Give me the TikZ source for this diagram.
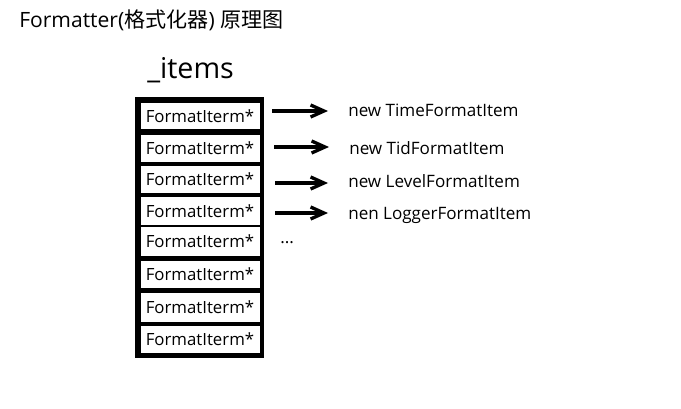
\documentclass[tikz,border=0pt]{standalone}
\usepackage{fontspec}
\setmainfont{Open Sans}
\newfontfamily\cjk{Noto Sans CJK SC}
\usetikzlibrary{arrows.meta}

\begin{document}
\begin{tikzpicture}[x=0.75pt,y=-0.75pt,
    cell/.style={fill=white,minimum width=89.25pt,inner sep=0pt,font=\fontsize{12.6}{14}\selectfont},
    item/.style={anchor=west,inner sep=0pt,font=\fontsize{12.8}{15}\selectfont},
    arr/.style={line width=2.5pt,-{Straight Barb[length=10pt,width=9pt]}}]
  \useasboundingbox (0,0) rectangle (681,409);

  % 1. 标题和 _items
  \node[anchor=west,inner sep=0pt,font=\fontsize{15.8}{18}\selectfont] (title) at (19,20)
    {Formatter({\cjk 格式化器}) {\cjk 原理图}};
  \node[anchor=west,inner sep=0pt,font=\fontsize{21.5}{24}\selectfont] (items) at (147,70) {\_items};

  % 2. 数组外框（黑底）和各个格子
  \fill (135,97) rectangle (264,358);
  \foreach \y/\h [count=\i] in {116/19.5,148.5/20.25,179.5/20.25,211/21,241.5/21.75,274.5/20.25,307.5/21.75,339.5/20.25}
    \node[cell,minimum height=\h pt] (c\i) at (200,\y) {FormatIterm*};

  % 3. 右边的 new ... 
  \node[item] (n1) at (348,110) {new TimeFormatItem};
  \node[item] (n2) at (349,148) {new TidFormatItem};
  \node[item] (n3) at (348,181) {new LevelFormatItem};
  \node[item] (n4) at (348,215) {nen LoggerFormatItem};
  \node[item] (dots) at (280,243) {...};

  % 4. 箭头
  \coordinate (s1) at (272,111);
  \coordinate (s2) at (274,147);
  \coordinate (s3) at (275,183);
  \coordinate (s4) at (275,213);
  \foreach \i in {1,...,4}
    \draw[arr,shorten >=15pt] (s\i) -- (s\i -| n\i.west);
\end{tikzpicture}
\end{document}
